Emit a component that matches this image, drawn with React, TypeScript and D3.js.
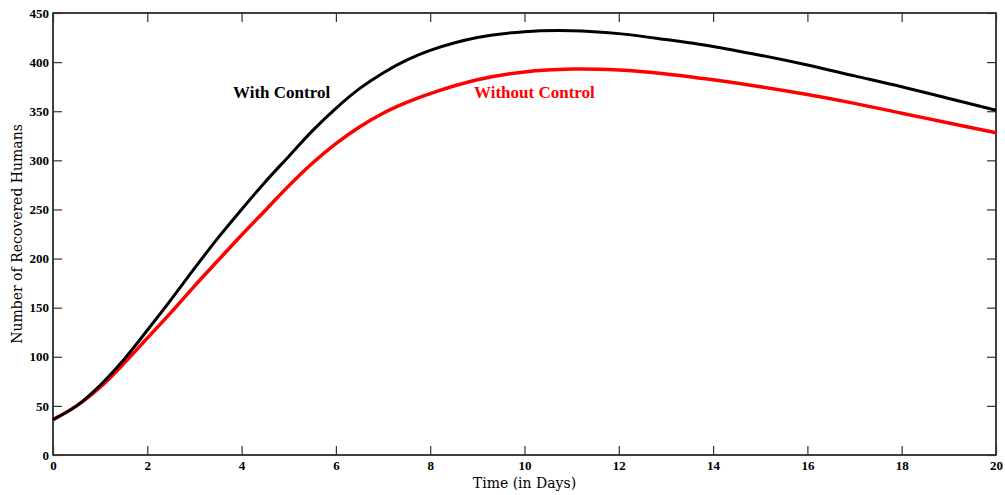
import React, { useEffect, useRef } from 'react'
import * as d3 from 'd3'

const days = [0, 0.5, 1, 1.5, 2, 2.5, 3, 3.5, 4, 4.5, 5, 5.5, 6, 6.5, 7, 7.5, 8, 9, 10, 11, 12, 13, 14, 15, 16, 17, 18, 19, 20]
const withControl = [36, 50, 71, 97, 127, 158, 190, 221, 250, 278, 304, 330, 353, 373, 389, 402, 412, 425, 431, 432, 429, 423, 416, 407, 397, 386, 375, 363, 351]
const withoutControl = [36, 50, 69, 93, 119, 145, 172, 198, 224, 249, 274, 297, 317, 334, 348, 359, 368, 382, 390, 393, 392, 388, 382, 375, 367, 358, 348, 338, 328]
const xTicks = [0, 2, 4, 6, 8, 10, 12, 14, 16, 18, 20]
const yTicks = [0, 50, 100, 150, 200, 250, 300, 350, 400, 450]

function App() {
  const svgRef = useRef(null)

  useEffect(() => {
    const w = 1005
    const h = 495
    const m = { left: 53, right: 996, top: 13, bottom: 455 }
    const svg = d3.select(svgRef.current)
    svg.selectAll('*').remove()
    svg.attr('width', w).attr('height', h)

    const x = d3.scaleLinear().domain([0, 20]).range([m.left, m.right])
    const y = d3.scaleLinear().domain([0, 450]).range([m.bottom, m.top])
    const tickFont = '"Liberation Serif", "Times New Roman", serif'

    // frame
    svg.append('rect')
      .attr('x', m.left).attr('y', m.top)
      .attr('width', m.right - m.left).attr('height', m.bottom - m.top)
      .attr('fill', 'none').attr('stroke', '#000').attr('stroke-width', 1.5)

    // axes with inward ticks
    const bottom = svg.append('g').attr('transform', `translate(0,${m.bottom})`)
      .call(d3.axisBottom(x).tickValues(xTicks).tickSizeInner(-9).tickSizeOuter(0).tickPadding(6))
    const top = svg.append('g').attr('transform', `translate(0,${m.top})`)
      .call(d3.axisTop(x).tickValues(xTicks).tickSizeInner(-9).tickSizeOuter(0).tickFormat(() => ''))
    const left = svg.append('g').attr('transform', `translate(${m.left},0)`)
      .call(d3.axisLeft(y).tickValues(yTicks).tickSizeInner(-9).tickSizeOuter(0).tickPadding(4))
    const right = svg.append('g').attr('transform', `translate(${m.right},0)`)
      .call(d3.axisRight(y).tickValues(yTicks).tickSizeInner(-9).tickSizeOuter(0).tickFormat(() => ''))
    ;[bottom, top, left, right].forEach(g => {
      g.select('.domain').remove()
      g.selectAll('line').attr('stroke', '#333').attr('stroke-width', 1.2)
      g.selectAll('text')
        .attr('font-family', tickFont)
        .attr('font-weight', 'bold')
        .attr('font-size', 13)
        .attr('fill', '#000')
    })

    const line = d3.line()
      .x((d, i) => x(days[i]))
      .y(d => y(d))
      .curve(d3.curveCatmullRom)

    svg.append('path').datum(withoutControl)
      .attr('d', line).attr('fill', 'none')
      .attr('stroke', '#ff0000').attr('stroke-width', 3.5)
    svg.append('path').datum(withControl)
      .attr('d', line).attr('fill', 'none')
      .attr('stroke', '#000').attr('stroke-width', 3)

    // curve labels
    svg.append('text').attr('x', 233).attr('y', 98)
      .attr('font-family', tickFont).attr('font-weight', 'bold').attr('font-size', 17)
      .attr('fill', '#000').text('With Control')
    svg.append('text').attr('x', 474).attr('y', 98)
      .attr('font-family', tickFont).attr('font-weight', 'bold').attr('font-size', 17)
      .attr('fill', '#ff0000').text('Without Control')

    // axis titles
    svg.append('text')
      .attr('x', (m.left + m.right) / 2).attr('y', 488)
      .attr('text-anchor', 'middle')
      .attr('font-family', '"DejaVu Serif", serif').attr('font-size', 14)
      .text('Time (in Days)')
    svg.append('text')
      .attr('transform', `translate(22,${(m.top + m.bottom) / 2}) rotate(-90)`)
      .attr('text-anchor', 'middle')
      .attr('font-family', '"DejaVu Serif", serif').attr('font-size', 14)
      .text('Number of Recovered Humans')
  }, [])

  return (
    <svg ref={svgRef} style={{ position: 'absolute', left: 0, top: 0, background: '#fff' }}></svg>
  )
}

export default App
